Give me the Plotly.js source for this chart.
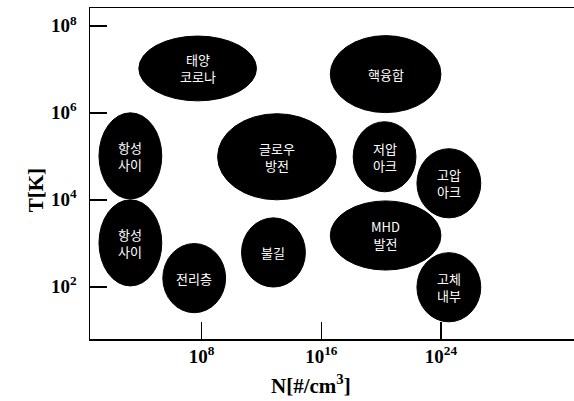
<!DOCTYPE html>
<html><head><meta charset="utf-8">
<script src="https://cdn.plot.ly/plotly-3.0.1.min.js"></script>
<style>html,body{margin:0;padding:0;background:#fff;}#chart{width:574px;height:401px;}</style>
</head><body><div id="chart"></div>
<script>
// Plasma regions: log10 density N [#/cm^3] and log10 temperature T [K]
const labels = ['태양<br>코로나','핵융합','항성<br>사이','항성<br>사이','전리층','글로우<br>방전','불길','저압<br>아크','고압<br>아크','MHD<br>발전','고체<br>내부'];
const logN   = [7.73, 20.3, 3.23, 3.23, 7.5, 13.03, 12.8, 20.23, 24.53, 20.3, 24.53];
const logT   = [7.02, 6.89, 5.01, 3.01, 2.20, 4.99, 2.79, 4.99, 4.38, 3.18, 1.99];
const spanN  = [7.87, 7.4, 4.2, 4.2, 4.2, 7.93, 4.27, 4.2, 4.27, 7.4, 4.27];
const spanT  = [1.49, 1.77, 1.98, 1.98, 1.59, 1.98, 1.59, 1.61, 1.59, 1.59, 1.59];
const xTickVals = [8, 16, 24];
const xTickText = ['10<sup>8</sup>','10<sup>16</sup>','10<sup>24</sup>'];
const yTickVals = [2, 4, 6, 8];
const yTickText = ['10<sup>2</sup>','10<sup>4</sup>','10<sup>6</sup>','10<sup>8</sup>'];

const shapes = logN.map((n,i)=>({
  type:'circle', xref:'x', yref:'y',
  x0:n-spanN[i]/2, x1:n+spanN[i]/2, y0:logT[i]-spanT[i]/2, y1:logT[i]+spanT[i]/2,
  fillcolor:'#000', line:{color:'#000', width:1}, layer:'above'
}));
const annotations = logN.map((n,i)=>({
  x:n, y:logT[i], xref:'x', yref:'y', text:labels[i], showarrow:false,
  font:{family:'Noto Sans CJK KR', size:13, color:'#fff'}
}));
annotations.push({xref:'paper', yref:'paper', x:-0.14, y:0.45, text:'<b>T[K]</b>', textangle:-90, showarrow:false,
  font:{family:'Liberation Serif', size:21, color:'#000'}});
annotations.push({xref:'paper', yref:'paper', x:0.456, y:-0.09, yanchor:'top', xanchor:'center', text:'<b>N[#/cm<sup>3</sup>]</b>', showarrow:false,
  font:{family:'Liberation Serif', size:21, color:'#000'}});

const trace = {x:logN, y:logT, mode:'markers', type:'scatter', marker:{opacity:0}, hoverinfo:'skip', showlegend:false};

const tickfont = {family:'Liberation Serif', size:19, color:'#000', weight:'bold'};
const layout = {
  width:574, height:401,
  margin:{l:90, r:0, t:8, b:62},
  paper_bgcolor:'#fff', plot_bgcolor:'#fff',
  xaxis:{range:[0.53, 32.9], tickvals:xTickVals, ticktext:xTickText, ticks:'inside', ticklen:17, tickwidth:1.5, tickcolor:'#000',
    showline:true, linecolor:'#000', linewidth:1.5, mirror:true, showgrid:false, zeroline:false, tickfont:tickfont, ticklabelstandoff:0},
  yaxis:{range:[0.8, 8.41], tickvals:yTickVals, ticktext:yTickText, ticks:'inside', ticklen:17, tickwidth:1.5, tickcolor:'#000',
    showline:true, linecolor:'#000', linewidth:1.5, mirror:false, showgrid:false, zeroline:false, tickfont:tickfont, ticklabelstandoff:8},
  shapes:shapes, annotations:annotations
};
Plotly.newPlot('chart',[trace],layout,{displayModeBar:false, staticPlot:true});
</script></body></html>
